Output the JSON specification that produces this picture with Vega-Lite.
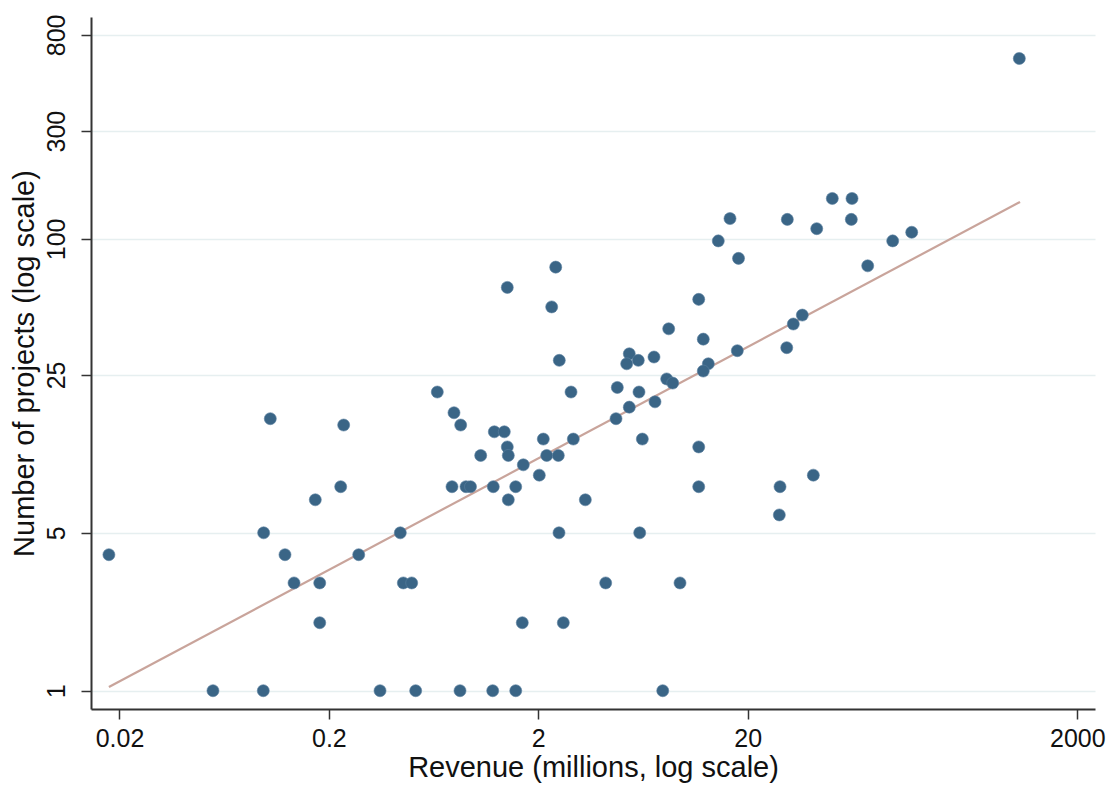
{
  "$schema": "https://vega.github.io/schema/vega-lite/v6.json",
  "width": 1004,
  "height": 692,
  "autosize": {"type": "none"},
  "padding": {"left": 91, "top": 17, "right": 19, "bottom": 78},
  "background": "white",
  "config": {
    "view": {"stroke": null},
    "font": "Liberation Sans",
    "axis": {
      "labelFont": "Liberation Sans",
      "titleFont": "Liberation Sans",
      "labelColor": "#111",
      "titleColor": "#111",
      "titleFontWeight": "normal",
      "domainColor": "#333",
      "domainWidth": 2,
      "tickColor": "#333",
      "tickWidth": 1.5,
      "tickSize": 10
    }
  },
  "datasets": {
    "firms": [
      {"revenue": 0.0178, "projects": 4},
      {"revenue": 0.1050, "projects": 16},
      {"revenue": 0.2353, "projects": 15},
      {"revenue": 0.6587, "projects": 21},
      {"revenue": 0.7914, "projects": 17},
      {"revenue": 0.8518, "projects": 15},
      {"revenue": 1.0615, "projects": 11},
      {"revenue": 0.2277, "projects": 8},
      {"revenue": 0.1722, "projects": 7},
      {"revenue": 0.7743, "projects": 8},
      {"revenue": 0.9032, "projects": 8},
      {"revenue": 0.9489, "projects": 8},
      {"revenue": 1.2191, "projects": 8},
      {"revenue": 0.0976, "projects": 5},
      {"revenue": 0.1234, "projects": 4},
      {"revenue": 0.2776, "projects": 4},
      {"revenue": 0.4385, "projects": 5},
      {"revenue": 0.1363, "projects": 3},
      {"revenue": 0.1808, "projects": 3},
      {"revenue": 0.4533, "projects": 3},
      {"revenue": 0.4971, "projects": 3},
      {"revenue": 0.1808, "projects": 2},
      {"revenue": 0.0559, "projects": 1},
      {"revenue": 0.0972, "projects": 1},
      {"revenue": 0.3509, "projects": 1},
      {"revenue": 0.5193, "projects": 1},
      {"revenue": 0.8455, "projects": 1},
      {"revenue": 1.2113, "projects": 1},
      {"revenue": 1.5604, "projects": 1},
      {"revenue": 7.857, "projects": 1},
      {"revenue": 2.511, "projects": 5},
      {"revenue": 6.099, "projects": 5},
      {"revenue": 4.196, "projects": 3},
      {"revenue": 9.500, "projects": 3},
      {"revenue": 1.677, "projects": 2},
      {"revenue": 2.633, "projects": 2},
      {"revenue": 50.70, "projects": 151},
      {"revenue": 62.97, "projects": 151},
      {"revenue": 16.46, "projects": 123},
      {"revenue": 30.92, "projects": 122},
      {"revenue": 62.49, "projects": 122},
      {"revenue": 42.72, "projects": 111},
      {"revenue": 14.47, "projects": 98},
      {"revenue": 18.08, "projects": 82},
      {"revenue": 2.422, "projects": 75},
      {"revenue": 1.422, "projects": 61},
      {"revenue": 2.317, "projects": 50},
      {"revenue": 11.67, "projects": 54},
      {"revenue": 8.389, "projects": 40},
      {"revenue": 36.46, "projects": 46},
      {"revenue": 33.02, "projects": 42},
      {"revenue": 12.27, "projects": 36},
      {"revenue": 30.72, "projects": 33},
      {"revenue": 17.84, "projects": 32},
      {"revenue": 2.519, "projects": 29},
      {"revenue": 5.439, "projects": 31},
      {"revenue": 5.286, "projects": 28},
      {"revenue": 6.005, "projects": 29},
      {"revenue": 7.136, "projects": 30},
      {"revenue": 12.97, "projects": 28},
      {"revenue": 12.27, "projects": 26},
      {"revenue": 8.206, "projects": 24},
      {"revenue": 8.767, "projects": 23},
      {"revenue": 2.866, "projects": 21},
      {"revenue": 4.768, "projects": 22},
      {"revenue": 6.051, "projects": 21},
      {"revenue": 7.215, "projects": 19},
      {"revenue": 5.439, "projects": 18},
      {"revenue": 4.700, "projects": 16},
      {"revenue": 1.233, "projects": 14},
      {"revenue": 1.376, "projects": 14},
      {"revenue": 2.113, "projects": 13},
      {"revenue": 2.939, "projects": 13},
      {"revenue": 6.278, "projects": 13},
      {"revenue": 1.422, "projects": 12},
      {"revenue": 1.438, "projects": 11},
      {"revenue": 2.194, "projects": 11},
      {"revenue": 2.492, "projects": 11},
      {"revenue": 1.696, "projects": 10},
      {"revenue": 2.022, "projects": 9},
      {"revenue": 11.67, "projects": 12},
      {"revenue": 1.560, "projects": 8},
      {"revenue": 1.438, "projects": 7},
      {"revenue": 3.354, "projects": 7},
      {"revenue": 11.67, "projects": 8},
      {"revenue": 28.53, "projects": 8},
      {"revenue": 41.15, "projects": 9},
      {"revenue": 28.31, "projects": 6},
      {"revenue": 396.4, "projects": 629},
      {"revenue": 98.5, "projects": 98},
      {"revenue": 121.4, "projects": 107},
      {"revenue": 74.83, "projects": 76}
    ],
    "fit": [
      {"revenue": 0.0178, "projects": 1.038},
      {"revenue": 399.5, "projects": 145.8}
    ]
  },
  "layer": [
    {
      "data": {"name": "fit"},
      "mark": {"type": "line", "color": "#c9a49b", "strokeWidth": 2.2},
      "encoding": {
        "x": {"field": "revenue", "type": "quantitative", "scale": {"type": "log", "domain": [0.01462, 911], "nice": false, "zero": false}},
        "y": {"field": "projects", "type": "quantitative", "scale": {"type": "log", "domain": [0.83, 960], "nice": false, "zero": false}}
      }
    },
    {
      "data": {"name": "firms"},
      "mark": {"type": "circle", "size": 145, "color": "#3a6586", "opacity": 1, "stroke": "#5a80a0", "strokeWidth": 0.6},
      "encoding": {
        "x": {
          "field": "revenue", "type": "quantitative",
          "scale": {"type": "log", "domain": [0.01462, 911], "nice": false, "zero": false},
          "axis": {
            "title": "Revenue (millions, log scale)",
            "values": [0.02, 0.2, 2, 20, 750],
            "labelExpr": "datum.value > 500 ? '2000' : format(datum.value, '~g')",
            "grid": false,
            "labelFontSize": 25,
            "titleFontSize": 29,
            "labelPadding": 7,
            "titlePadding": 2
          }
        },
        "y": {
          "field": "projects", "type": "quantitative",
          "scale": {"type": "log", "domain": [0.83, 960], "nice": false, "zero": false},
          "axis": {
            "title": "Number of projects (log scale)",
            "values": [1, 5, 25, 100, 300, 800],
            "format": "~g",
            "grid": true,
            "gridColor": "#e6eff0",
            "gridWidth": 1.5,
            "labelAngle": 270,
            "labelFontSize": 25,
            "titleFontSize": 29,
            "labelPadding": 12,
            "titlePadding": 5
          }
        }
      }
    }
  ]
}
